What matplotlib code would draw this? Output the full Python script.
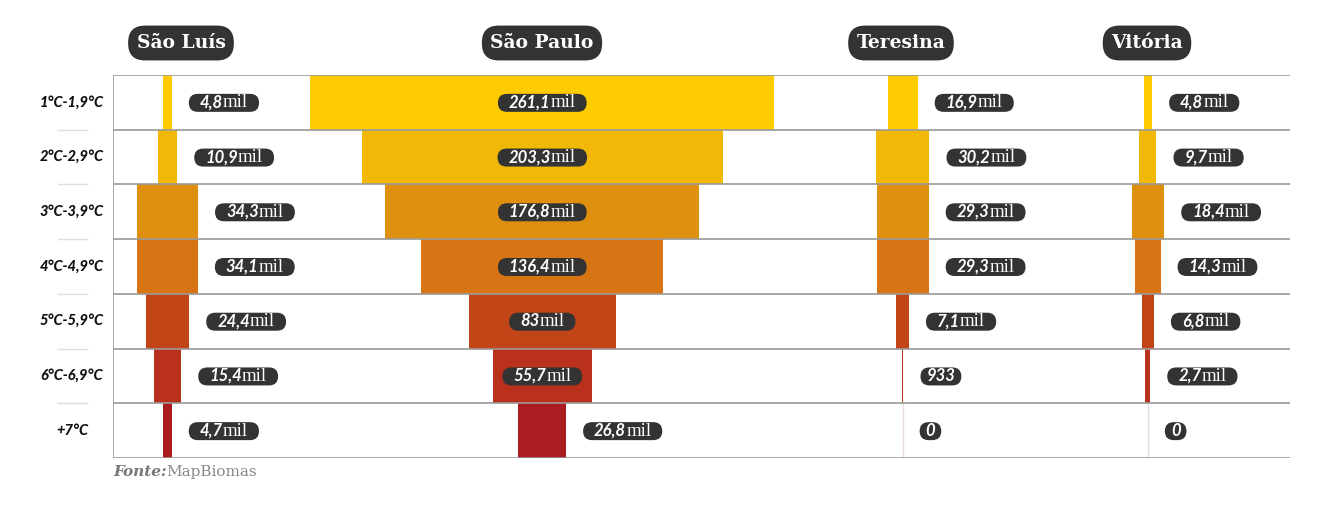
import matplotlib
matplotlib.use('Agg')
import matplotlib.pyplot as plt
from matplotlib.patches import FancyBboxPatch
from matplotlib.transforms import IdentityTransform, blended_transform_factory
from matplotlib.lines import Line2D

# faixas de aumento de temperatura (linhas) e populacao exposta, em mil
faixas = ['1°C-1,9°C', '2°C-2,9°C', '3°C-3,9°C', '4°C-4,9°C',
          '5°C-5,9°C', '6°C-6,9°C', '+7°C']
cidades = ['São Luís', 'São Paulo', 'Teresina', 'Vitória']
sao_luis = [4.8, 10.9, 34.3, 34.1, 24.4, 15.4, 4.7]
sao_paulo = [261.1, 203.3, 176.8, 136.4, 83, 55.7, 26.8]
teresina = [16.9, 30.2, 29.3, 29.3, 7.1, 0.933, 0]
vitoria = [4.8, 9.7, 18.4, 14.3, 6.8, 2.7, 0]
valores = [sao_luis, sao_paulo, teresina, vitoria]

cores = ['#FDCB00', '#F2B807', '#E0900F', '#D77414',
         '#C24518', '#B9311C', '#AB1C20']
centros = [30.7, 241.6, 444.4, 582.4]     # centro de cada coluna (eixo x)
titulo_x = [181, 542, 901, 1147]          # px
W, H = 1344, 509
escuro = '#333333'

fig = plt.figure(figsize=(W / 100, H / 100), dpi=100)
ax = fig.add_axes([113 / W, 1 - 458 / H, 1177 / W, 383 / H])
ax.set_xlim(0, 662.4)
ax.set_ylim(len(faixas) - 0.5, -0.5)
ax.axis('off')

for c, vals in zip(centros, valores):
    for i, v in enumerate(vals):
        if v > 0:
            ax.barh(i, v, left=c - v / 2, height=1.0, color=cores[i],
                    linewidth=0, zorder=2)
        else:
            ax.vlines(c, i - 0.5, i + 0.5, color='#eadcdc', lw=1, zorder=2)

for b in range(len(faixas) + 1):
    ax.axhline(b - 0.5, color='#9a9a9a', lw=1.2, zorder=3)
ax.axvline(0, color='#9a9a9a', lw=1.2, zorder=3)

# rotulos das faixas
tr = blended_transform_factory(fig.transFigure, ax.transData)
for i, f in enumerate(faixas):
    ax.text(72 / W, i, f, transform=tr, ha='center', va='center',
            fontsize=10.5, fontweight='black', style='italic',
            family='Lato', color='#111111', clip_on=False)
    if i > 0:
        fig.add_artist(Line2D([58 / W, 87 / W], [i - 0.5, i - 0.5],
                              transform=tr, color='#dddddd', lw=1))

# titulos das cidades
for x, nome in zip(titulo_x, cidades):
    fig.text(x / W, 1 - 43 / H, nome, ha='center', va='center',
             fontsize=13.5, fontweight='bold', family='DejaVu Serif',
             color='white',
             bbox=dict(boxstyle='round,pad=0.45,rounding_size=0.9',
                       fc=escuro, ec='none'))

fig.canvas.draw()
rend = fig.canvas.get_renderer()


def formata(v):
    if v == 0:
        return '0', ''
    if v < 1:
        return str(int(round(v * 1000))), ''
    if v == int(v):
        return str(int(v)), 'mil'
    return f'{v:.1f}'.replace('.', ','), 'mil'


def rotulo(c, i, v):
    num, uni = formata(v)
    xc, yc = ax.transData.transform((c, i))
    xr, _ = ax.transData.transform((c + v / 2, i))
    xl, _ = ax.transData.transform((c - v / 2, i))
    base = yc - 5
    t1 = fig.text(0, 0, num, transform=IdentityTransform(), fontsize=12,
                  fontweight='bold', style='italic', family='Lato',
                  color='white', va='baseline', zorder=6)
    t2 = fig.text(0, 0, uni, transform=IdentityTransform(), fontsize=13.5,
                  family='Liberation Serif', color='white', va='baseline',
                  zorder=6)
    w1 = t1.get_window_extent(rend).width
    w2 = t2.get_window_extent(rend).width if uni else 0
    padx = 11 if uni else 6
    w = w1 + w2
    if xr - xl > w + 2 * padx + 4:
        left = xc - w / 2
    else:
        left = xr + 17 + padx
    t1.set_position((left, base))
    t2.set_position((left + w1, base))
    fig.add_artist(FancyBboxPatch((left - padx, yc - 9.5), w + 2 * padx, 18,
                                  boxstyle='round,pad=0,rounding_size=9',
                                  transform=IdentityTransform(),
                                  fc=escuro, ec='none', zorder=5))


for c, vals in zip(centros, valores):
    for i, v in enumerate(vals):
        rotulo(c, i, v)

# fonte
yb = H - 476
t1 = fig.text(113, yb, 'Fonte:', transform=IdentityTransform(), fontsize=11,
              fontweight='bold', style='italic', family='DejaVu Serif',
              color='#777777', va='baseline')
w1 = t1.get_window_extent(rend).width
fig.text(113 + w1, yb, 'MapBiomas', transform=IdentityTransform(),
         fontsize=11, family='DejaVu Serif', color='#888888', va='baseline')

fig.savefig('out.png', dpi=100, facecolor='white')
